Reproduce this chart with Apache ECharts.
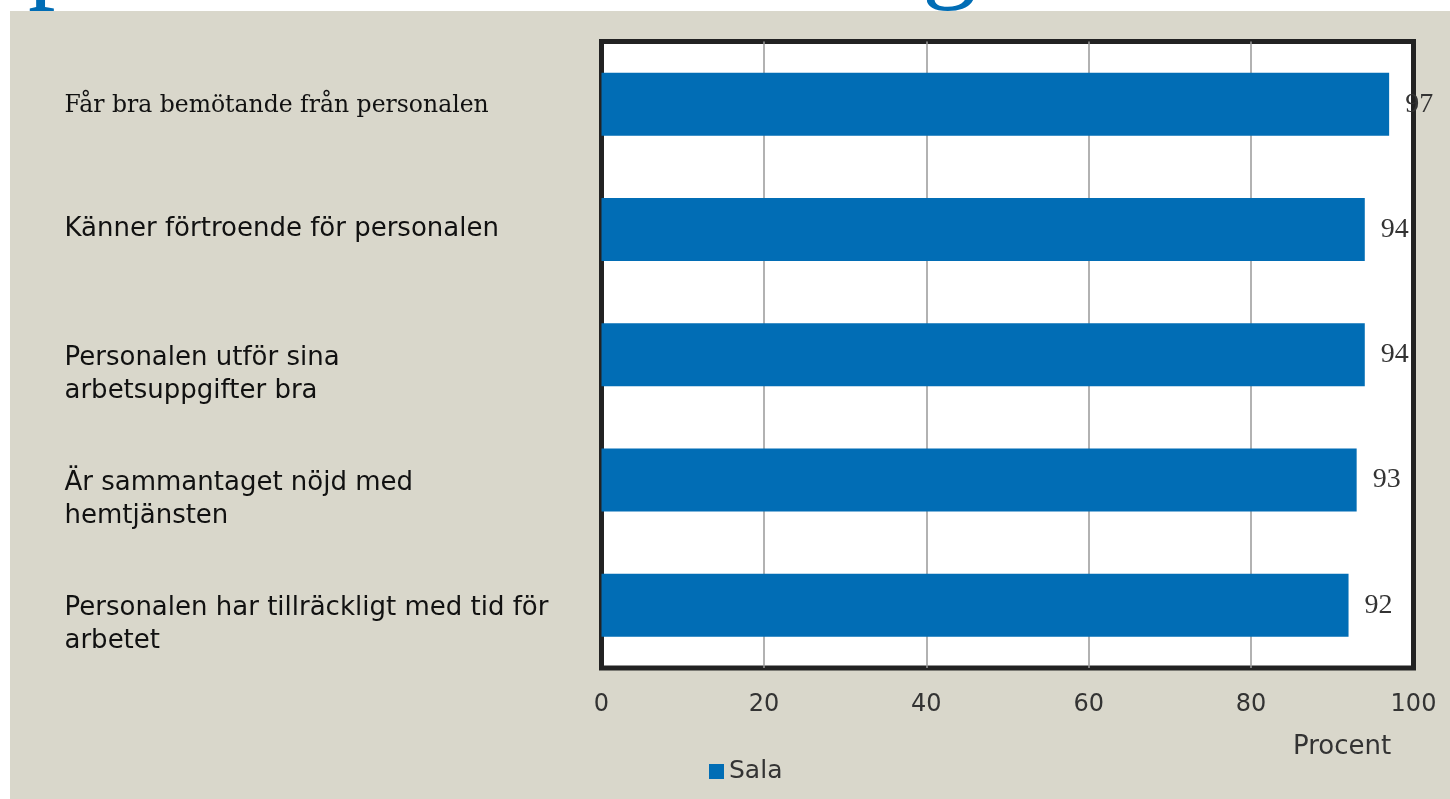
<!DOCTYPE html>
<html><head><meta charset="utf-8">
<script src="https://cdn.jsdelivr.net/npm/echarts@6/dist/echarts.min.js"></script>
<style>html,body{margin:0;padding:0;background:#fff}#c{width:1450px;height:799px}</style>
</head><body><div id="c"></div>
<script>
const categories = [
  "Får bra bemötande från personalen",
  "Känner förtroende för personalen",
  "Personalen utför sina\narbetsuppgifter bra",
  "Är sammantaget nöjd med\nhemtjänsten",
  "Personalen har tillräckligt med tid för\narbetet"
];
const salaValues = [97, 94, 94, 93, 92];
const xTicks = [0, 20, 40, 60, 80, 100];
const seriesName = "Sala";
const axisName = "Procent";

const SANS = '"DejaVu Sans", sans-serif';
const SERIF = '"DejaVu Serif", serif';

const chart = echarts.init(document.getElementById('c'));
chart.setOption({
  backgroundColor: '#d9d7cb',
  animation: false,
  grid: {left: 601.5, right: 36.5, top: 41.5, bottom: 131, show: true, backgroundColor: '#ffffff', borderColor: '#222222', borderWidth: 5},
  legend: {
    data: [seriesName], left: 704, top: 754, itemWidth: 15, itemHeight: 15, itemGap: 6,
    icon: 'rect',
    textStyle: {fontFamily: SANS, fontSize: 25, color: '#333'}
  },
  xAxis: {
    type: 'value', min: xTicks[0], max: xTicks[xTicks.length-1], interval: 20,
    axisLine: {show: false}, axisTick: {show: false},
    splitLine: {show: true, showMinLine: false, showMaxLine: false, lineStyle: {color: '#999', width: 1.5}},
    axisLabel: {margin: 25, fontSize: 24, color: '#333', fontFamily: SANS}
  },
  yAxis: {
    type: 'category', data: categories, inverse: true,
    axisLine: {show: false}, axisTick: {show: false},
    axisLabel: {
      align: 'left', margin: 537, color: '#111', lineHeight: 33,
      formatter: function (v, i) {
        if (i === 0) return '{s|' + v + '}';
        const lines = v.split('\n');
        if (lines.length > 1) return '{e| }\n{g|' + lines.join('}\n{g|') + '}';
        return '{g|' + v + '}';
      },
      rich: {
        s: {fontFamily: SERIF, fontSize: 23.5, color: '#111', padding: [4, 0, 0, 0]},
        g: {fontFamily: SANS, fontSize: 26, color: '#111', lineHeight: 33},
        e: {fontFamily: SANS, fontSize: 26, lineHeight: 39}
      }
    }
  },
  series: [{
    name: seriesName, type: 'bar', data: salaValues, barWidth: 63,
    itemStyle: {color: '#016db5'},
    label: {show: true, position: 'right', distance: 16, fontFamily: '"Liberation Serif", serif', fontSize: 28, color: '#333'}
  }],
  graphic: [
    {type: 'rect', left: 0, top: 0, shape: {width: 1450, height: 11}, style: {fill: '#fff'}, z: 100},
    {type: 'rect', left: 0, top: 0, shape: {width: 10, height: 799}, style: {fill: '#fff'}, z: 100},
    {type: 'text', left: 28, top: -96, style: {text: 'p', fontFamily: '"Liberation Serif", serif', fontSize: 110, lineHeight: 110, fill: '#016db5'}, z: 110},
    {type: 'text', left: 922, top: -96, style: {text: 'g', fontFamily: '"Liberation Serif", serif', fontSize: 110, lineHeight: 110, fill: '#016db5'}, z: 110},
    {type: 'text', left: 1293, top: 734, style: {text: axisName, fontFamily: SANS, fontSize: 26, fill: '#333'}, z: 100}
  ]
});
</script></body></html>
